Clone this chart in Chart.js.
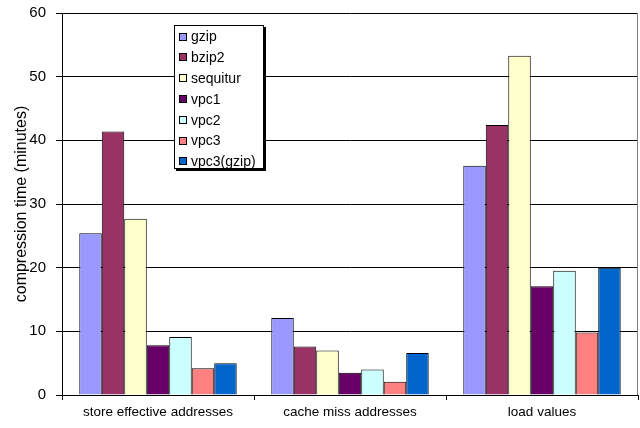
<!DOCTYPE html>
<html>
<head>
<meta charset="utf-8">
<script src="https://cdn.jsdelivr.net/npm/chart.js@4"></script>
<style>
  html, body { margin: 0; padding: 0; background: #fff; }
  #wrap { width: 640px; height: 428px; }
</style>
</head>
<body>
<div id="wrap"><canvas id="timeChart" width="640" height="428"></canvas></div>
<script>
// Compression time per trace type
const categories = ['store effective addresses', 'cache miss addresses', 'load values'];
const seriesNames = ['gzip', 'bzip2', 'sequitur', 'vpc1', 'vpc2', 'vpc3', 'vpc3(gzip)'];
const gzip = [25.4, 12.1, 36.0];
const bzip2 = [41.4, 7.6, 42.4];
const sequitur = [27.7, 7.0, 53.3];
const vpc1 = [7.8, 3.5, 17.1];
const vpc2 = [9.1, 4.0, 19.5];
const vpc3 = [4.2, 2.1, 9.8];
const vpc3gzip = [5.0, 6.6, 20.0];
const yTicks = [0, 10, 20, 30, 40, 50, 60];

const seriesValues = [gzip, bzip2, sequitur, vpc1, vpc2, vpc3, vpc3gzip];
const colors = ['#9999FF', '#993366', '#FFFFCC', '#660066', '#CCFFFF', '#FF8080', '#0066CC'];

const FONT = 'Liberation Sans, Arial, sans-serif';

// legend box drawn inside the plot, plus the plot area frame
const boxLegend = {
    id: 'boxLegend',
    afterDraw(chart) {
        const ctx = chart.ctx;
        const a = chart.chartArea;
        ctx.save();
        ctx.strokeStyle = '#808080';
        ctx.lineWidth = 1;
        ctx.beginPath();
        ctx.moveTo(a.right - 0.5, a.top);
        ctx.lineTo(a.right - 0.5, a.bottom);
        ctx.stroke();

        const x = 174, y = 25, w = 90, h = 144;
        ctx.fillStyle = '#000';
        ctx.fillRect(x + 2, y + 2, w, h);
        ctx.fillStyle = '#fff';
        ctx.fillRect(x, y, w, h);
        ctx.strokeStyle = '#000';
        ctx.strokeRect(x + 0.5, y + 0.5, w - 1, h - 1);
        ctx.font = '14px ' + FONT;
        ctx.textBaseline = 'middle';
        chart.data.datasets.forEach((ds, i) => {
            const cy = 36.5 + i * 20.8;
            ctx.fillStyle = ds.backgroundColor;
            ctx.fillRect(179, Math.round(cy - 4), 8, 8);
            ctx.strokeStyle = '#000';
            ctx.strokeRect(179.5, Math.round(cy - 4) + 0.5, 7, 7);
            ctx.fillStyle = '#000';
            ctx.fillText(ds.label, 191, cy + 1);
        });
        ctx.restore();
    }
};

const ctx = document.getElementById('timeChart').getContext('2d');
const timeChart = new Chart(ctx, {
    type: 'bar',
    data: {
        labels: categories,
        datasets: seriesNames.map((name, i) => ({
            label: name,
            data: seriesValues[i],
            backgroundColor: colors[i],
            borderColor: '#000',
            borderWidth: 1,
            categoryPercentage: 0.82,
            barPercentage: 1.0
        }))
    },
    options: {
        responsive: false,
        animation: false,
        layout: { padding: { top: 13, right: 2, left: 0, bottom: 0 } },
        plugins: {
            legend: { display: false },
            tooltip: { enabled: false }
        },
        scales: {
            x: {
                grid: { display: true, drawOnChartArea: false, offset: true, color: '#000', tickLength: 5 },
                border: { color: '#000' },
                ticks: { color: '#000', font: { family: FONT, size: 13.5 }, padding: 4, maxRotation: 0 },
                afterFit(scale) {
                    scale.height = 33;
                    scale.paddingLeft = 0;
                    scale.paddingRight = 0;
                }
            },
            y: {
                min: 0,
                max: 60,
                afterBuildTicks(scale) { scale.ticks = yTicks.map(v => ({ value: v })); },
                grid: { color: '#000', tickLength: 6 },
                border: { color: '#000' },
                ticks: { color: '#000', font: { family: FONT, size: 15 }, padding: 10 },
                title: {
                    display: true,
                    text: 'compression time (minutes)',
                    color: '#000',
                    font: { family: FONT, size: 16 },
                    padding: { top: 12, bottom: 0 }
                },
                afterFit(scale) {
                    scale.width = 62;
                    scale.paddingTop = 0;
                    scale.paddingBottom = 0;
                }
            }
        }
    },
    plugins: [boxLegend]
});
</script>
</body>
</html>
